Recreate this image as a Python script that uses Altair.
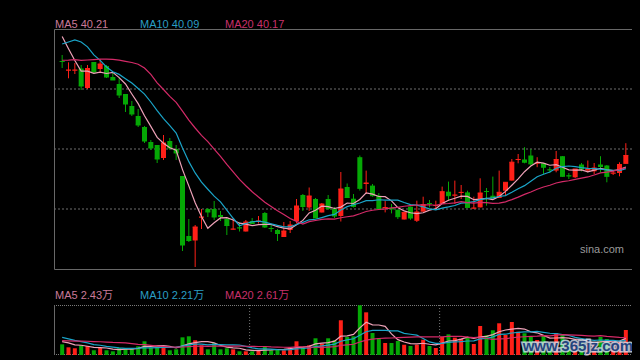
import altair as alt
import pandas as pd
import jinja2

# ---------------- data ----------------
opens = [50.8, 49.85, 49.85, 50.05, 48.1, 50.7, 50.0, 50.3, 49.2, 48.5,
         47.5, 46.3, 45.3, 44.2, 42.7, 42.4, 41.1, 42.8, 42.0, 39.3,
         33.3, 32.85, 35.15, 36.0, 36.0, 35.4, 35.0, 33.95, 34.15, 33.75,
         34.8, 34.75, 35.6, 34.1, 33.9, 33.2, 33.9, 34.8, 37.4, 36.15,
         37.0, 35.65, 37.0, 36.0, 35.3, 38.2, 37.03, 41.18, 38.5, 38.34,
         37.33, 36.1, 36.1, 35.93, 34.95, 36.23, 34.82, 35.73, 36.6, 36.3,
         36.5, 37.73, 37.35, 37.62, 37.66, 36.05, 36.16, 37.8, 37.33, 37.1,
         37.83, 38.84, 40.9, 40.95, 41.35, 40.55, 40.58, 39.95, 39.84, 41.28,
         39.36, 39.17, 40.45, 39.84, 39.77, 40.45, 40.35, 39.55, 39.6, 40.51]
highs = [51.4, 50.67, 50.6, 50.4, 50.4, 50.7, 51.0, 50.4, 49.7, 49.1,
         47.5, 46.8, 46.0, 44.3, 42.9, 42.4, 43.4, 43.1, 42.4, 39.3,
         35.0, 34.4, 36.0, 36.1, 36.8, 35.8, 35.2, 35.1, 34.65, 34.9,
         35.1, 35.3, 35.7, 34.5, 34.0, 34.7, 34.8, 37.0, 37.5, 38.15,
         37.1, 36.6, 37.4, 36.2, 39.7, 38.55, 37.5, 41.35, 39.84, 38.5,
         37.6, 36.8, 36.5, 35.93, 35.7, 36.23, 36.83, 37.23, 36.9, 36.83,
         38.24, 38.74, 38.84, 38.4, 37.83, 37.23, 39.07, 38.1, 39.24, 39.84,
         38.67, 41.0, 41.5, 42.18, 42.0, 41.18, 40.6, 40.2, 41.8, 41.3,
         39.6, 40.0, 40.6, 40.85, 40.6, 41.28, 40.4, 39.84, 40.67, 42.58]
lows = [50.1, 49.07, 49.5, 47.9, 48.0, 49.5, 49.7, 49.1, 48.9, 47.1,
        45.7, 45.3, 44.2, 42.6, 41.9, 40.6, 40.9, 41.9, 40.9, 31.8,
        32.7, 30.2, 34.0, 35.2, 34.9, 34.8, 33.4, 33.95, 33.75, 33.75,
        34.5, 34.55, 34.1, 33.7, 32.8, 33.2, 33.6, 34.55, 35.8, 35.8,
        35.1, 35.65, 35.9, 35.1, 34.75, 37.1, 36.15, 37.84, 37.5, 37.23,
        36.0, 35.66, 35.56, 35.0, 34.95, 34.92, 34.7, 35.73, 36.16, 36.0,
        36.5, 36.83, 36.5, 37.0, 36.16, 36.05, 36.16, 36.33, 37.1, 37.1,
        37.33, 38.84, 40.57, 40.57, 40.35, 40.18, 39.5, 39.6, 39.67, 39.2,
        39.0, 39.1, 39.76, 39.67, 39.5, 39.67, 38.67, 39.4, 39.27, 40.51]
closes = [50.75, 49.9, 49.9, 48.3, 50.05, 49.7, 50.5, 49.2, 48.9, 47.4,
          46.5, 45.5, 44.4, 42.8, 42.1, 41.0, 42.6, 42.1, 41.6, 32.4,
          32.85, 34.2, 35.2, 35.7, 35.2, 35.25, 34.35, 34.0, 34.1, 34.7,
          34.55, 34.8, 34.2, 34.05, 33.55, 33.8, 34.4, 36.3, 36.25, 37.3,
          35.1, 36.5, 36.05, 35.3, 38.0, 37.15, 36.26, 38.07, 38.6, 37.33,
          36.0, 36.15, 36.0, 35.23, 35.66, 35.1, 35.7, 36.43, 36.55, 36.35,
          37.73, 37.33, 37.4, 37.66, 36.16, 36.1, 37.6, 37.75, 37.1, 37.67,
          38.67, 40.68, 40.95, 40.68, 40.51, 40.6, 40.18, 39.9, 40.95, 39.27,
          39.3, 40.0, 40.0, 40.0, 40.1, 40.25, 39.27, 39.6, 40.45, 41.35]
# volume, in 万
volumes = [1.56, 1.12, 0.98, 1.42, 1.31, 0.69, 1.02, 0.69, 0.54, 1.02,
           1.02, 0.98, 1.27, 2.00, 1.07, 1.27, 1.27, 0.69, 0.83, 2.58,
           2.73, 2.15, 1.42, 0.83, 1.75, 0.83, 0.98, 0.83, 0.54, 0.54,
           0.54, 0.69, 1.27, 0.69, 0.83, 0.69, 1.12, 2.00, 1.12, 1.42,
           2.44, 1.65, 2.44, 2.15, 5.07, 2.63, 2.73, 7.26, 6.23, 3.21,
           2.48, 1.75, 1.75, 2.04, 1.50, 1.31, 1.50, 2.23, 1.31, 1.02,
           2.63, 3.02, 2.53, 2.38, 2.53, 1.61, 4.23, 2.88, 3.61, 4.63,
           2.92, 4.82, 3.40, 3.17, 2.63, 2.19, 2.92, 1.46, 3.21, 2.92,
           1.75, 2.04, 1.75, 1.46, 1.75, 2.63, 2.34, 1.46, 2.04, 3.65]
# sessions before the visible window (only used for the moving averages)
prior_closes = [49.5, 49.0, 49.8, 49.3, 48.8, 49.6, 49.1, 49.4, 48.9, 49.0,
                47.9, 47.9, 50.3, 55.0, 57.7, 56.0, 55.8, 53.6, 50.1]
prior_volumes = [1.6, 1.6, 1.5, 1.7, 1.6, 1.6, 1.5, 1.7, 1.6, 1.6,
                 3.2, 3.3, 3.1, 3.2, 3.2, 2.04, 2.34, 1.75, 2.04]
grid_prices = [36, 42, 48]
vol_vlines = [29.6, 59.6]
price_labels = ["MA5 40.21", "MA10 40.09", "MA20 40.17"]
volume_labels = ["MA5 2.43万", "MA10 2.21万", "MA20 2.61万"]

# ---------------- build tables ----------------
n = len(closes)
k = len(prior_closes)
allc = pd.Series(prior_closes + closes)
allv = pd.Series(prior_volumes + volumes)
df = pd.DataFrame({"i": list(range(n)), "open": opens, "high": highs,
                   "low": lows, "close": closes, "volume": volumes})
for w in (5, 10, 20):
    df[f"ma{w}"] = allc.rolling(w).mean().iloc[k:].to_numpy()
    df[f"vma{w}"] = allv.rolling(w).mean().iloc[k:].to_numpy()

# ---------------- style / layout ----------------
RED = "#ff2018"
GREEN = "#05a805"
MA_COLORS = ["#eea2b8", "#1aa4c8", "#d42a68"]
LABEL_COLORS = ["#c97a98", "#2a9ec4", "#c8306a"]
FONT = "Liberation Sans, Arial, 'Noto Sans CJK SC', sans-serif"
X0, X1 = 46, 626
PY_TOP, PY_BOT = 21, 261
VY_TOP, VY_BOT = 297, 347

xs = alt.Scale(domain=[-0.5, n - 0.5], range=[X0, X1], nice=False, zero=False)
ps = alt.Scale(domain=[30, 54], range=[PY_BOT, PY_TOP], nice=False, zero=False)
vs = alt.Scale(domain=[0, 7.3], range=[VY_BOT, VY_TOP], nice=False, zero=False)

X = alt.X("i:Q", scale=xs, axis=None)
updown = alt.condition("datum.close >= datum.open", alt.value(RED), alt.value(GREEN))
base = alt.Chart(df)
one = pd.DataFrame({"a": [0]})

layers = []
# grid lines of the price panel
layers.append(alt.Chart(pd.DataFrame({"p": grid_prices})).mark_rule(
    color="#4a4a4a", strokeWidth=1.5, strokeDash=[2, 2]).encode(
    y=alt.Y("p:Q", scale=ps, axis=None), x=alt.value(X0), x2=alt.value(X1)))
# frame of the price panel
layers.append(alt.Chart(one).mark_rect(fillOpacity=0, stroke="#686868", strokeWidth=1).encode(
    x=alt.value(X0 + 0.5), x2=alt.value(X1 + 0.5),
    y=alt.value(PY_TOP + 0.5), y2=alt.value(PY_BOT + 0.5)))
# candles
layers.append(base.mark_rule(strokeWidth=1).encode(
    X, alt.Y("low:Q", scale=ps, axis=None), alt.Y2("high:Q"), color=updown))
layers.append(base.mark_bar(size=5).encode(
    X, alt.Y("open:Q", scale=ps, axis=None), alt.Y2("close:Q"), color=updown))
layers.append(base.mark_rule(strokeWidth=1, xOffset=-2.5, x2Offset=2.5).encode(
    X, alt.X2("i:Q"), alt.Y("close:Q", scale=ps, axis=None), color=updown))
# moving averages
for w, col in zip((5, 10, 20), MA_COLORS):
    layers.append(base.mark_line(strokeWidth=1.2, color=col).encode(
        X, alt.Y(f"ma{w}:Q", scale=ps, axis=None)))

# volume panel frame
layers.append(alt.Chart(pd.DataFrame({"v": vol_vlines})).mark_rule(
    color="#777777", strokeDash=[1, 2]).encode(
    x=alt.X("v:Q", scale=xs, axis=None), y=alt.value(VY_TOP), y2=alt.value(VY_BOT)))
for yv in (VY_TOP + 0.5, VY_BOT - 0.5):
    layers.append(alt.Chart(one).mark_rule(color="#7a7a7a", strokeDash=[1, 1]).encode(
        x=alt.value(X0), x2=alt.value(X1 + 1), y=alt.value(yv)))
for xv in (X0 + 0.5, X1 + 0.5):
    layers.append(alt.Chart(one).mark_rule(color="#686868").encode(
        x=alt.value(xv), y=alt.value(VY_TOP), y2=alt.value(VY_BOT)))
# volume bars and their moving averages
layers.append(base.mark_bar(size=4).encode(
    X, alt.Y("volume:Q", scale=vs, axis=None), alt.Y2(datum=0), color=updown))
for w, col in zip((5, 10, 20), MA_COLORS):
    layers.append(base.mark_line(strokeWidth=1.2, color=col).encode(
        X, alt.Y(f"vma{w}:Q", scale=vs, axis=None)))

# legends / texts
for j, (lab, col) in enumerate(zip(price_labels, LABEL_COLORS)):
    layers.append(alt.Chart(pd.DataFrame({"t": [lab]})).mark_text(
        align="left", baseline="alphabetic", font=FONT, fontSize=11, color=col).encode(
        text="t:N", x=alt.value(47 + 85 * j), y=alt.value(20)))
for j, (lab, col) in enumerate(zip(volume_labels, LABEL_COLORS)):
    layers.append(alt.Chart(pd.DataFrame({"t": [lab]})).mark_text(
        align="left", baseline="alphabetic", font=FONT, fontSize=11, color=col).encode(
        text="t:N", x=alt.value(47 + 85 * j), y=alt.value(291)))
layers.append(alt.Chart(pd.DataFrame({"t": ["sina.com"]})).mark_text(
    align="right", baseline="alphabetic", font=FONT, fontSize=11, color="#9a9a9a").encode(
    text="t:N", x=alt.value(616), y=alt.value(245)))
wm = pd.DataFrame({"t": ["www.365jz.com"]})
layers.append(alt.Chart(wm).mark_text(
    align="right", baseline="alphabetic", font=FONT, fontSize=15, fontWeight="bold",
    color="#d8e4f4", stroke="#d8e4f4", strokeWidth=3, opacity=0.8).encode(
    text="t:N", x=alt.value(625), y=alt.value(343)))
layers.append(alt.Chart(wm).mark_text(
    align="right", baseline="alphabetic", font=FONT, fontSize=15, fontWeight="bold",
    color="#24447e").encode(
    text="t:N", x=alt.value(625), y=alt.value(343)))

chart = alt.layer(*layers).resolve_scale(y="independent").properties(
    width=630, height=350, padding=0,
    autosize=alt.AutoSizeParams(type="none"),
).configure(background="#000000").configure_view(strokeWidth=0)

# same page as Altair's standard one, but with a black page background
BLACK_PAGE = jinja2.Template("""<!DOCTYPE html>
<html>
<head>
  <meta charset="utf-8">
  <style>html, body { background: #000000; }</style>
  <script type="text/javascript" src="{{ base_url }}/vega@{{ vega_version }}"></script>
  <script type="text/javascript" src="{{ base_url }}/vega-lite@{{ vegalite_version }}"></script>
  <script type="text/javascript" src="{{ base_url }}/vega-embed@{{ vegaembed_version }}"></script>
</head>
<body>
  <div id="{{ output_div }}"></div>
  <script type="text/javascript">
    (function(vegaEmbed) {
      var spec = {{ spec }};
      var embedOpt = {{ embed_options }};
      vegaEmbed("#{{ output_div }}", spec, embedOpt).catch(function(err) {
        document.getElementById("{{ output_div }}").innerHTML = String(err);
      });
    })(vegaEmbed);
  </script>
</body>
</html>""")

chart.save("out.html", embed_options={"renderer": "svg", "actions": False},
           template=BLACK_PAGE)
